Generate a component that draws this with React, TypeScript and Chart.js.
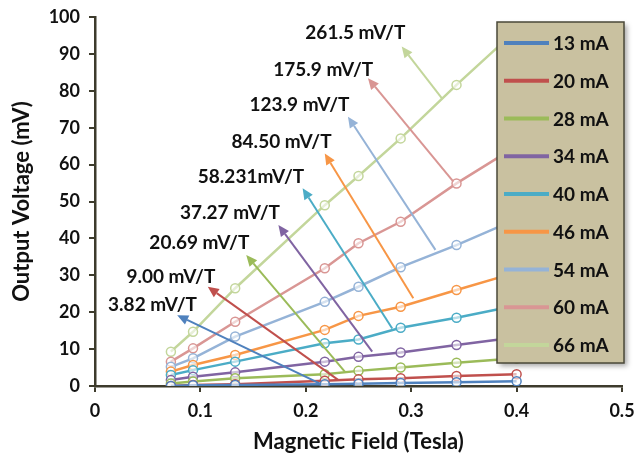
import React, { useEffect, useRef } from "react";
import { Chart, registerables } from "chart.js";

Chart.register(...registerables);

// ---------- data ----------
const fieldTesla = [0.072, 0.093, 0.133, 0.218, 0.25, 0.29, 0.343, 0.4];

const seriesLabels = ["13 mA", "20 mA", "28 mA", "34 mA", "40 mA", "46 mA", "54 mA", "60 mA", "66 mA"];
const seriesColors = ["#4F81BD", "#C0504D", "#9BBB59", "#8064A2", "#4BACC6", "#F79646", "#95B3D7", "#D99694", "#C3D69B"];

const v13 = [0.0, 0.2, 0.3, 0.5, 0.6, 0.8, 1.0, 1.3];
const v20 = [0.0, 0.3, 0.5, 1.4, 1.8, 2.1, 2.7, 3.2];
const v28 = [0.7, 1.2, 2.1, 3.2, 4.1, 5.0, 6.3, 7.5];
const v34 = [1.6, 2.5, 3.7, 6.6, 7.9, 9.1, 11.1, 13.2];
const v40 = [3.0, 4.3, 6.6, 11.6, 12.6, 15.8, 18.5, 21.8];
const v46 = [3.9, 5.7, 8.4, 15.2, 19.0, 21.5, 26.0, 30.8];
const v54 = [5.2, 7.5, 13.4, 22.8, 26.9, 32.2, 38.2, 45.2];
const v60 = [6.6, 10.2, 17.4, 31.9, 38.7, 44.5, 54.9, 65.0];
const v66 = [9.3, 14.7, 26.5, 49.0, 56.9, 67.1, 81.6, 96.5];
const seriesValues = [v13, v20, v28, v34, v40, v46, v54, v60, v66];

const xTickLabels = ["0", "0.1", "0.2", "0.3", "0.4", "0.5"];
const yTickLabels = ["0", "10", "20", "30", "40", "50", "60", "70", "80", "90", "100"];

// sensitivity annotations (data coordinates)
const annTexts = ["261.5 mV/T", "175.9 mV/T", "123.9 mV/T", "84.50 mV/T", "58.231mV/T", "37.27 mV/T", "20.69 mV/T", "9.00 mV/T", "3.82 mV/T"];
const annSeries = [8, 7, 6, 5, 4, 3, 2, 1, 0];
const annLabelX = [0.247, 0.2165, 0.194, 0.177, 0.148, 0.128, 0.099, 0.072, 0.0546];
const annLabelY = [95.8, 85.6, 76.2, 66.2, 56.7, 46.8, 38.7, 29.6, 22.0];
const annHeadX = [0.291, 0.259, 0.24, 0.218, 0.197, 0.174, 0.1435, 0.107, 0.078];
const annHeadY = [92.0, 83.4, 73.0, 63.0, 53.6, 43.6, 35.5, 26.9, 19.2];
const annTailX = [0.329, 0.34, 0.323, 0.302, 0.282, 0.263, 0.237, 0.231, 0.213];
const annTailY = [78.0, 55.4, 36.9, 23.8, 15.6, 9.3, 3.9, 1.6, 0.7];

const FONT = "Lato, 'Open Sans', sans-serif";
const AXIS_COLOR = "#3d3b2c";

const annotationPlugin = {
  id: "sensAnnotations",
  afterDatasetsDraw(chart: any) {
    const ctx = chart.ctx;
    const xs = chart.scales.x;
    const ys = chart.scales.y;
    ctx.save();
    for (let i = 0; i < annTexts.length; i++) {
      const color = seriesColors[annSeries[i]];
      const hx = xs.getPixelForValue(annHeadX[i]);
      const hy = ys.getPixelForValue(annHeadY[i]);
      const tx = xs.getPixelForValue(annTailX[i]);
      const ty = ys.getPixelForValue(annTailY[i]);
      const ang = Math.atan2(hy - ty, hx - tx);
      const hl = 11, hw = 5;
      const bx = hx - hl * Math.cos(ang);
      const by = hy - hl * Math.sin(ang);
      ctx.strokeStyle = color;
      ctx.fillStyle = color;
      ctx.lineWidth = 2;
      ctx.beginPath();
      ctx.moveTo(tx, ty);
      ctx.lineTo(bx, by);
      ctx.stroke();
      ctx.beginPath();
      ctx.moveTo(hx, hy);
      ctx.lineTo(bx + hw * Math.sin(ang), by - hw * Math.cos(ang));
      ctx.lineTo(bx - hw * Math.sin(ang), by + hw * Math.cos(ang));
      ctx.closePath();
      ctx.fill();
      const lx = xs.getPixelForValue(annLabelX[i]);
      const ly = ys.getPixelForValue(annLabelY[i]);
      ctx.fillStyle = "#111";
      ctx.font = `bold 19px ${FONT}`;
      ctx.textAlign = "center";
      ctx.textBaseline = "middle";
      ctx.fillText(annTexts[i], lx, ly);
    }
    ctx.restore();
  },
};

const boxLegendPlugin = {
  id: "boxLegend",
  afterDraw(chart: any) {
    const ctx = chart.ctx;
    const area = chart.chartArea;
    const bx = area.right - 125, by = area.top + 5, bw = 127, bh = 341;
    ctx.save();
    ctx.shadowColor = "rgba(0,0,0,0.35)";
    ctx.shadowBlur = 5;
    ctx.shadowOffsetX = 3;
    ctx.shadowOffsetY = 3;
    ctx.fillStyle = "#C9C1A0";
    ctx.fillRect(bx, by, bw, bh);
    ctx.shadowColor = "transparent";
    ctx.strokeStyle = "#4a4838";
    ctx.lineWidth = 1.5;
    ctx.strokeRect(bx, by, bw, bh);
    const ds = chart.data.datasets;
    for (let i = 0; i < ds.length; i++) {
      const cy = by + 21 + i * 37.75;
      ctx.strokeStyle = ds[i].borderColor;
      ctx.lineWidth = 4;
      ctx.beginPath();
      ctx.moveTo(bx + 7, cy);
      ctx.lineTo(bx + 52, cy);
      ctx.stroke();
      ctx.fillStyle = "#111";
      ctx.font = `bold 19px ${FONT}`;
      ctx.textAlign = "left";
      ctx.textBaseline = "middle";
      ctx.fillText(ds[i].label, bx + 56, cy + 1);
    }
    ctx.restore();
  },
};

export default function App() {
  const canvasRef = useRef<HTMLCanvasElement | null>(null);

  useEffect(() => {
    document.body.style.margin = "0";
    const canvas = canvasRef.current;
    if (!canvas) return;
    const datasets = seriesLabels.map((label, i) => ({
      label,
      data: fieldTesla.map((x, j) => ({ x, y: seriesValues[i][j] })),
      borderColor: seriesColors[i],
      backgroundColor: "rgba(255,255,255,0.6)",
      pointBorderColor: seriesColors[i],
      pointBackgroundColor: "rgba(255,255,255,0.6)",
      pointRadius: 4.5,
      pointBorderWidth: 1.5,
      borderWidth: 2.5,
      showLine: true,
      tension: 0,
    }));
    const chart = new Chart(canvas, {
      type: "scatter",
      data: { datasets },
      options: {
        animation: false,
        responsive: false,
        devicePixelRatio: 1,
        layout: { padding: { top: 17, right: 13, left: 0, bottom: 0 } },
        plugins: {
          legend: { display: false },
          tooltip: { enabled: false },
        },
        scales: {
          x: {
            type: "linear",
            min: 0,
            max: 0.5,
            afterFit: (s: any) => {
              s.height = 80;
              s.paddingLeft = 0;
              s.paddingRight = 0;
            },
            ticks: {
              stepSize: 0.1,
              color: "#111",
              padding: 8,
              font: { family: FONT, weight: "bold", size: 18 },
              callback: (_v: any, idx: number) => xTickLabels[idx],
            },
            grid: {
              drawOnChartArea: false,
              drawTicks: true,
              tickLength: 6,
              color: AXIS_COLOR,
              lineWidth: 2,
            },
            border: { display: true, color: AXIS_COLOR, width: 2.5 },
            title: {
              display: true,
              text: "Magnetic Field (Tesla)",
              color: "#111",
              font: { family: FONT, weight: "bold", size: 22 },
              padding: { top: 0, bottom: 11 },
            },
          },
          y: {
            type: "linear",
            min: 0,
            max: 100,
            afterFit: (s: any) => {
              s.width = 95;
              s.paddingTop = 0;
              s.paddingBottom = 0;
            },
            ticks: {
              stepSize: 10,
              color: "#111",
              padding: 9,
              font: { family: FONT, weight: "bold", size: 18 },
              callback: (_v: any, idx: number) => yTickLabels[idx],
            },
            grid: {
              drawOnChartArea: false,
              drawTicks: true,
              tickLength: 6,
              color: AXIS_COLOR,
              lineWidth: 2,
            },
            border: { display: true, color: AXIS_COLOR, width: 2.5 },
            title: {
              display: true,
              text: "Output Voltage (mV)",
              color: "#111",
              font: { family: FONT, weight: "bold", size: 22 },
              padding: { top: 9, bottom: 0 },
            },
          },
        },
      },
      plugins: [annotationPlugin, boxLegendPlugin],
    });
    return () => chart.destroy();
  }, []);

  return (
    <div style={{ width: 635, height: 466, background: "#fff" }}>
      <canvas ref={canvasRef} width={635} height={466} style={{ display: "block" }} />
    </div>
  );
}
